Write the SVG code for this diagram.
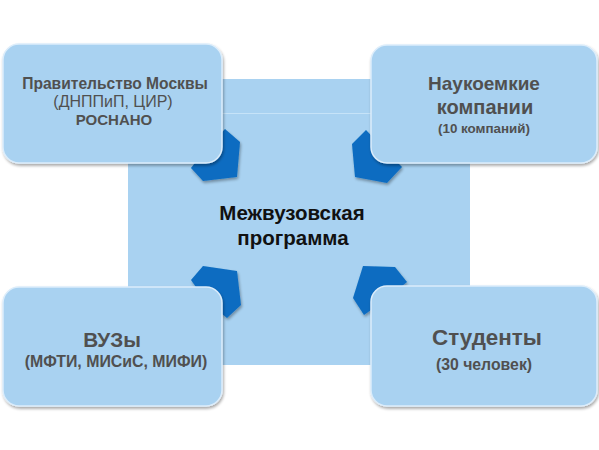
<svg xmlns="http://www.w3.org/2000/svg" width="599" height="450" viewBox="0 0 599 450">
<defs>
<filter id="sh" x="-10%" y="-10%" width="120%" height="125%">
<feGaussianBlur in="SourceAlpha" stdDeviation="1.5"/>
<feOffset dx="1" dy="2" result="b"/>
<feComponentTransfer><feFuncA type="linear" slope="0.35"/></feComponentTransfer>
<feMerge><feMergeNode/><feMergeNode in="SourceGraphic"/></feMerge>
</filter>
</defs>
<style>
.box{fill:#a9d2f1;stroke:#dcedfb;stroke-width:1.5;filter:url(#sh)}
.pent{fill:#0b6cc1;filter:url(#sh)}
.t{font-family:"Liberation Sans",Arial,sans-serif;fill:#505050;text-anchor:middle;font-weight:bold}
.r{font-weight:normal}
.c{fill:#111}
</style>
<rect id="bg" width="599" height="450" fill="#fff"/>
<g id="center">
<rect x="128" y="79" width="342" height="286" fill="#a9d2f1"/>
<line x1="128" y1="113.5" x2="470" y2="113.5" stroke="#c6e3f8" stroke-width="1.2"/>
<text class="t c" x="292" y="220" font-size="20.5">Межвузовская</text>
<text class="t c" x="293" y="245" font-size="20.5">программа</text>
</g>
<g id="connectors">
<polygon class="pent" points="225,129 240,142 237,177 203,181 191,168 205,150"/>
<polygon class="pent" points="366,130 352,144 355,177 387,183 402,167 385,150"/>
<polygon class="pent" points="203,266 237,271 241,305 227,318 205,300 191,280"/>
<polygon class="pent" points="363,266 395,267 407,282 385,300 364,315 353,298"/>
</g>
<g id="n-government">
<rect class="box" x="3" y="44" width="219" height="119" rx="16"/>
<text class="t" x="115" y="89" font-size="15.6">Правительство Москвы</text>
<text class="t r" x="113" y="107" font-size="16">(ДНППиП, ЦИР)</text>
<text class="t" x="114" y="125" font-size="15">РОСНАНО</text>
</g>
<g id="n-companies">
<rect class="box" x="371" y="45" width="226" height="118" rx="16"/>
<text class="t" x="484" y="90" font-size="19">Наукоемкие</text>
<text class="t" x="485" y="114" font-size="20">компании</text>
<text class="t" x="484" y="133" font-size="13.4">(10 компаний)</text>
</g>
<g id="n-universities">
<rect class="box" x="3" y="287" width="219" height="119" rx="16"/>
<text class="t" x="112" y="347" font-size="20.7">ВУЗы</text>
<text class="t" x="116" y="367" font-size="15.9">(МФТИ, МИСиС, МИФИ)</text>
</g>
<g id="n-students">
<rect class="box" x="371" y="286" width="226" height="120" rx="16"/>
<text class="t" x="487" y="345" font-size="22.4">Студенты</text>
<text class="t" x="484" y="370" font-size="15.8">(30 человек)</text>
</g>
</svg>
